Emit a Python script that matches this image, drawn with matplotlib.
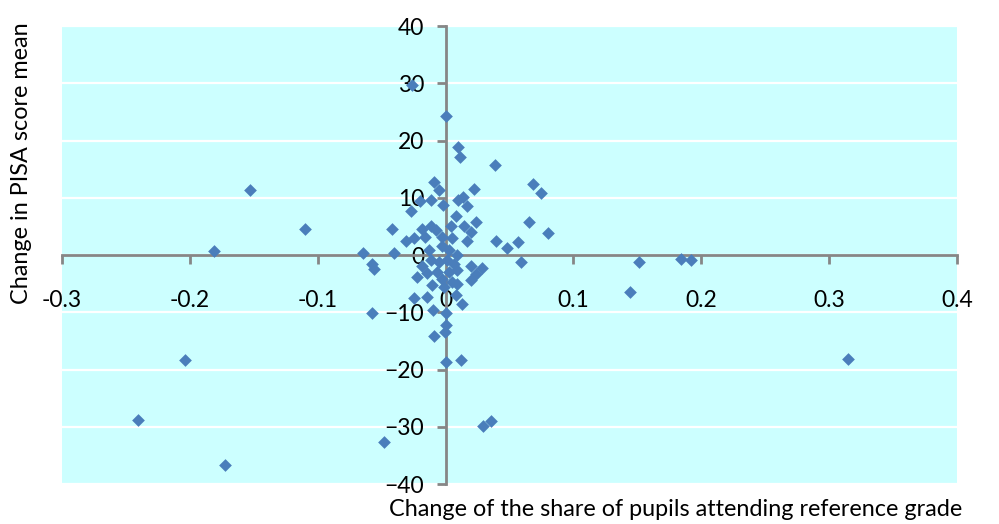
import matplotlib
matplotlib.use("Agg")
import matplotlib.pyplot as plt

# change of share attending reference grade (x) vs change in PISA mean (y)
share_change = [
    -0.1527, -0.1096, -0.1814, -0.204, -0.2407, -0.1728,
    0.1514, 0.1443, 0.184, 0.192, 0.3146,
    -0.0261, 0.0, 0.0099, 0.0112, 0.0384, 0.0684, 0.0744,
    -0.0091, -0.005, 0.022, -0.0196, -0.0115, -0.0022, 0.0095, 0.0133, 0.0165, -0.0274, 0.008,
    -0.0415, 0.024, 0.065, 0.0804,
    -0.0183, -0.0117, -0.0078, 0.0039, 0.0144, 0.0196,
    -0.0313, -0.0248, -0.0157, -0.0026, 0.0052, 0.017, 0.0392, 0.0483, 0.0566,
    -0.0647, -0.0405,
    -0.013, -0.0026, 0.0026, 0.0091,
    0.0587, -0.0574, -0.056, -0.0117, -0.0052, 0.0013, 0.0065, -0.0183, 0.0196, 0.0287,
    -0.0144, -0.0065, 0.0026, 0.0091, 0.0235, -0.0227, -0.0026, 0.0052, 0.0196, -0.0104,
    -0.0013, 0.0091, -0.0248, -0.0144, 0.0078, 0.013, -0.0574, -0.0097, 0.0, 0.0,
    -0.0008, -0.0091, 0.0005, 0.0117, 0.0295, 0.0358, -0.0483,
]
score_change = [
    11.4, 4.5, 0.7, -18.4, -28.9, -36.7,
    -1.3, -6.5, -0.75, -0.9, -18.2,
    29.7, 24.3, 18.8, 17.1, 15.7, 12.4, 10.8,
    12.7, 11.3, 11.5, 9.5, 9.6, 8.8, 9.6, 10.2, 8.6, 7.7, 6.8,
    4.6, 5.7, 5.8, 3.8,
    4.6, 5.0, 4.4, 5.0, 5.0, 4.1,
    2.5, 2.9, 3.2, 3.2, 2.9, 2.4, 2.4, 1.2, 2.3,
    0.4, 0.3,
    0.9, 1.5, 0.9, 0.0,
    -1.2, -1.5, -2.4, -0.9, -1.2, -0.9, -1.5, -2.0, -2.0, -2.2,
    -3.2, -2.9, -2.9, -2.6, -3.3, -3.8, -4.1, -4.7, -4.4, -5.2,
    -5.5, -5.0, -7.5, -7.4, -7.0, -8.6, -10.2, -9.6, -10.2, -12.2,
    -13.4, -14.2, -18.6, -18.4, -29.8, -29.0, -32.6,
]
x_ticks = [-0.3, -0.2, -0.1, 0, 0.1, 0.2, 0.3, 0.4]
x_labels = ["-0.3", "-0.2", "-0.1", "0", "0.1", "0.2", "0.3", "0.4"]
y_ticks = [-40, -30, -20, -10, 0, 10, 20, 30, 40]

plt.rcParams['font.family'] = ['Lato', 'DejaVu Sans']

fig = plt.figure(figsize=(9.99, 5.24), dpi=100)
ax = fig.add_axes([0.062, 0.0763, 0.896, 0.874])
ax.set_facecolor('#CCFFFF')

ax.scatter(share_change, score_change, marker='D', s=42, color='#4A7EBB',
           linewidths=0, zorder=3)

ax.set_xlim(-0.3, 0.4)
ax.set_ylim(-40, 40)
ax.set_yticks(y_ticks)
ax.set_xticks(x_ticks)
ax.set_xticklabels(x_labels)

ax.grid(axis='y', color='white', linewidth=1.6, zorder=0)
ax.set_axisbelow(True)

for side in ['top', 'right']:
    ax.spines[side].set_visible(False)
ax.spines['left'].set_position(('data', 0))
ax.spines['bottom'].set_position(('data', 0))
for side in ['left', 'bottom']:
    ax.spines[side].set_color('#868686')
    ax.spines[side].set_linewidth(2)
    ax.spines[side].set_zorder(2)

ax.tick_params(axis='x', direction='out', length=6.5, width=2, color='#868686',
               labelsize=16.5, pad=19)
ax.tick_params(axis='y', direction='out', length=6.5, width=2, color='#868686',
               labelsize=16.5, pad=9)

fig.text(0.022, 1 - 163 / 524, 'Change in PISA score mean', rotation=90,
         ha='center', va='center', fontsize=16.8)
fig.text(0.963, 1 - 510 / 524, 'Change of the share of pupils attending reference grade',
         ha='right', va='center', fontsize=16.8)

fig.savefig('out.png', dpi=100)
